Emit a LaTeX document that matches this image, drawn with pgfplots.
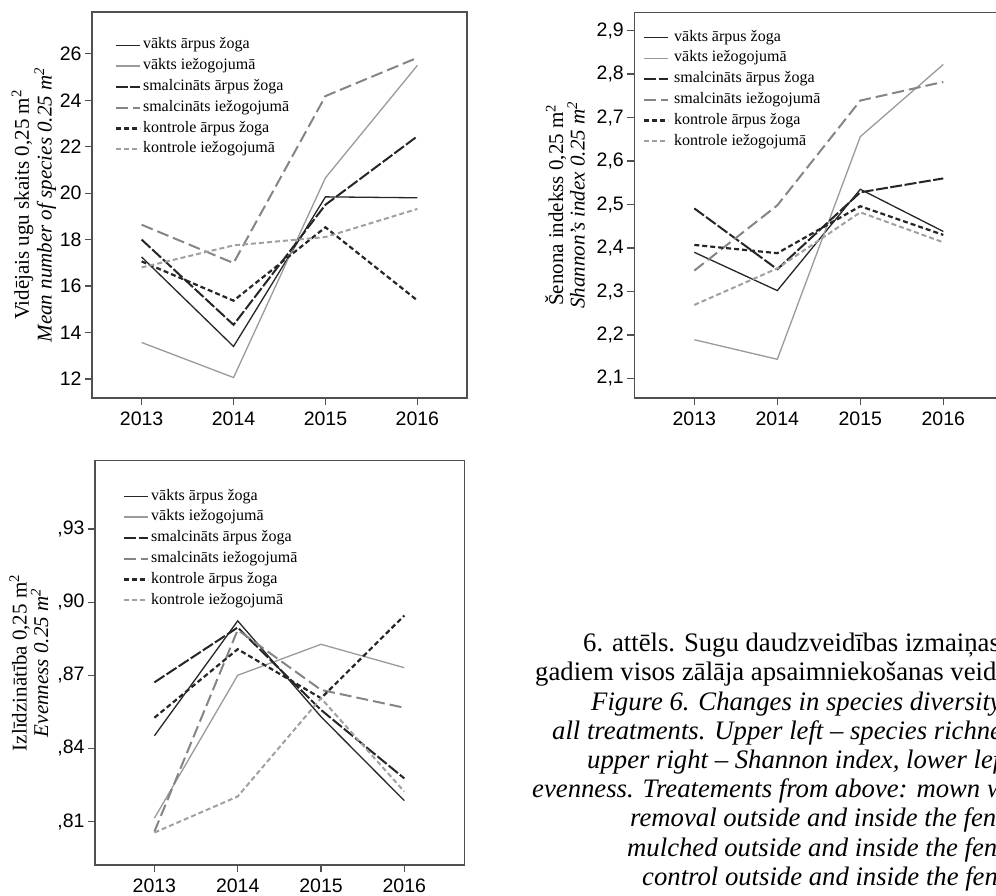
\documentclass[border=0pt]{standalone}
\usepackage{fontspec}
\setmainfont{Liberation Serif}
\newfontfamily\arialf{Liberation Sans}
\usepackage{pgfplots}
\usepackage{pgfplotstable}
\pgfplotsset{compat=1.18}

\definecolor{axgray}{HTML}{505050}
\definecolor{ink}{HTML}{262626}
\definecolor{lgray}{HTML}{9A9A9A}
\definecolor{mgray}{HTML}{858585}
\definecolor{sgray}{HTML}{A0A0A0}

% columns: mown out/in, mulched out/in, control out/in
\pgfplotstableread{
yr  vo     vi     so     si     ko     ki
0   17.25  13.57  18.00  18.64  17.06  16.80
1   13.40  12.06  14.33  16.99  15.37  17.75
2   19.84  20.66  19.50  24.18  18.53  18.11
3   19.80  25.50  22.45  25.83  15.38  19.32
}\richness

\pgfplotstableread{
yr  vo     vi     so     si     ko     ki
0   2.390  2.189  2.491  2.348  2.407  2.269
1   2.302  2.144  2.351  2.498  2.388  2.353
2   2.535  2.656  2.528  2.739  2.496  2.482
3   2.438  2.822  2.560  2.782  2.430  2.413
}\shannon

\pgfplotstableread{
yr  vo      vi      so      si      ko      ki
0   0.8452  0.8114  0.8671  0.8059  0.8526  0.8055
1   0.8923  0.8700  0.8896  0.8886  0.8807  0.8203
2   0.8530  0.8827  0.8558  0.8640  0.8606  0.8606
3   0.8186  0.8731  0.8277  0.8567  0.8945  0.8223
}\evenness

\pgfplotsset{
  mownOut/.style={ink, line width=1.3pt},
  mownIn/.style={lgray, line width=1.3pt},
  mulchOut/.style={ink, line width=2pt, dash pattern=on 12pt off 2.5pt},
  mulchIn/.style={mgray, line width=2pt, dash pattern=on 12pt off 5pt},
  ctrlOut/.style={ink, line width=2.2pt, dash pattern=on 5pt off 3pt},
  ctrlIn/.style={sgray, line width=2pt, dash pattern=on 5pt off 3pt},
  panel/.style={
    scale only axis,
    anchor=south west,
    axis line style={draw=axgray, line width=1.4pt},
    tick style={draw=axgray, line width=1.2pt},
    major tick length=7pt,
    tick align=outside,
    xtick pos=bottom, ytick pos=left,
    xtick={0,1,2,3},
    xticklabels={2013,2014,2015,2016},
    ticklabel style={font=\arialf\fontsize{19.5}{20}\selectfont},
    xticklabel style={yshift=-3.5pt},
    ylabel style={anchor=center, align=center,
      font=\fontsize{21}{20}\selectfont},
    legend cell align=left,
    legend image code/.code={\draw[##1] (0pt,0pt) -- (24pt,0pt);},
    legend style={draw=none, fill=none, anchor=north west,
      inner sep=0pt, outer sep=0pt,
      font=\fontsize{16}{19}\selectfont, row sep=5.3pt, column sep=2pt,
      nodes={inner xsep=0pt, inner ysep=0pt, text height=11.5pt, text depth=4pt}},
  },
}

\begin{document}
\begin{tikzpicture}[x=1pt,y=1pt]

% species richness
\begin{axis}[panel,
  at={(92pt,498pt)}, width=375pt, height=386pt,
  xmin=-0.54, xmax=3.54, ymin=11.18, ymax=27.8,
  ytick={12,14,16,18,20,22,24,26},
  yticklabels={12,14,16,18,20,22,24,26},
  ylabel={Vidējais ugu skaits 0,25 m\textsuperscript{2}\\\textit{Mean number of species 0.25 m\textsuperscript{2}}},
  ylabel style={at={(axis description cs:-0.155,0.5)}},
  legend style={at={(axis description cs:0.061,0.934)}},
]
\addplot[mownOut]  table[x=yr,y=vo]{\richness};
\addplot[mownIn]   table[x=yr,y=vi]{\richness};
\addplot[mulchOut] table[x=yr,y=so]{\richness};
\addplot[mulchIn]  table[x=yr,y=si]{\richness};
\addplot[ctrlOut]  table[x=yr,y=ko]{\richness};
\addplot[ctrlIn]   table[x=yr,y=ki]{\richness};
\legend{vākts ārpus žoga, vākts iežogojumā, smalcināts ārpus žoga,
  smalcināts iežogojumā, kontrole ārpus žoga, kontrole iežogojumā}
\end{axis}

% Shannon index
\begin{axis}[panel,
  at={(634.3pt,498pt)}, width=369pt, height=385.7pt,
  xmin=-0.723, xmax=3.723, ymin=2.055, ymax=2.942,
  ytick={2.1,2.2,2.3,2.4,2.5,2.6,2.7,2.8,2.9},
  yticklabels={{2,1},{2,2},{2,3},{2,4},{2,5},{2,6},{2,7},{2,8},{2,9}},
  ylabel={Šenona indekss 0,25 m\textsuperscript{2}\\\textit{Shannon’s index 0.25 m\textsuperscript{2}}},
  ylabel style={at={(axis description cs:-0.188,0.5)}},
  legend style={at={(axis description cs:0.0236,0.955)}, column sep=5pt},
]
\addplot[mownOut]  table[x=yr,y=vo]{\shannon};
\addplot[mownIn]   table[x=yr,y=vi]{\shannon};
\addplot[mulchOut] table[x=yr,y=so]{\shannon};
\addplot[mulchIn]  table[x=yr,y=si]{\shannon};
\addplot[ctrlOut]  table[x=yr,y=ko]{\shannon};
\addplot[ctrlIn]   table[x=yr,y=ki]{\shannon};
\legend{vākts ārpus žoga, vākts iežogojumā, smalcināts ārpus žoga,
  smalcināts iežogojumā, kontrole ārpus žoga, kontrole iežogojumā}
\end{axis}

% evenness
\begin{axis}[panel,
  at={(95pt,31pt)}, width=369.3pt, height=404.3pt,
  xmin=-0.713, xmax=3.72, ymin=0.7922, ymax=0.958,
  ytick={0.81,0.84,0.87,0.90,0.93},
  yticklabels={{,81},{,84},{,87},{,90},{,93}},
  ylabel={Izlīdzinātība 0,25 m\textsuperscript{2}\\\textit{Evenness 0.25 m\textsuperscript{2}}},
  ylabel style={at={(axis description cs:-0.179,0.5)}},
  legend style={at={(axis description cs:0.0758,0.931)}},
]
\addplot[mownOut]  table[x=yr,y=vo]{\evenness};
\addplot[mownIn]   table[x=yr,y=vi]{\evenness};
\addplot[mulchOut] table[x=yr,y=so]{\evenness};
\addplot[mulchIn]  table[x=yr,y=si]{\evenness};
\addplot[ctrlOut]  table[x=yr,y=ko]{\evenness};
\addplot[ctrlIn]   table[x=yr,y=ki]{\evenness};
\legend{vākts ārpus žoga, vākts iežogojumā, smalcināts ārpus žoga,
  smalcināts iežogojumā, kontrole ārpus žoga, kontrole iežogojumā}
\end{axis}

% figure caption
\begin{scope}[every node/.style={anchor=base west, inner sep=0pt,
    font=\fontsize{26.7}{29}\selectfont}]
\node at (583,244.3) {6. attēls. Sugu daudzveidības izmaiņas};
\node at (535,215.1) {gadiem visos zālāja apsaimniekošanas veidos};
\node at (591,185.9) {\itshape Figure 6. Changes in species diversity};
\node at (552,156.7) {\itshape all treatments. Upper left – species richness};
\node at (587,127.5) {\itshape upper right – Shannon index, lower left};
\node at (532,98.3)  {\itshape evenness. Treatements from above: mown with};
\node at (630,69.1)  {\itshape removal outside and inside the fence};
\node at (627,39.9)  {\itshape mulched outside and inside the fence};
\node at (642,10.7)  {\itshape control outside and inside the fence};
\end{scope}

\pgfresetboundingbox
\useasboundingbox (0,0) rectangle (996,896);
\end{tikzpicture}
\end{document}
